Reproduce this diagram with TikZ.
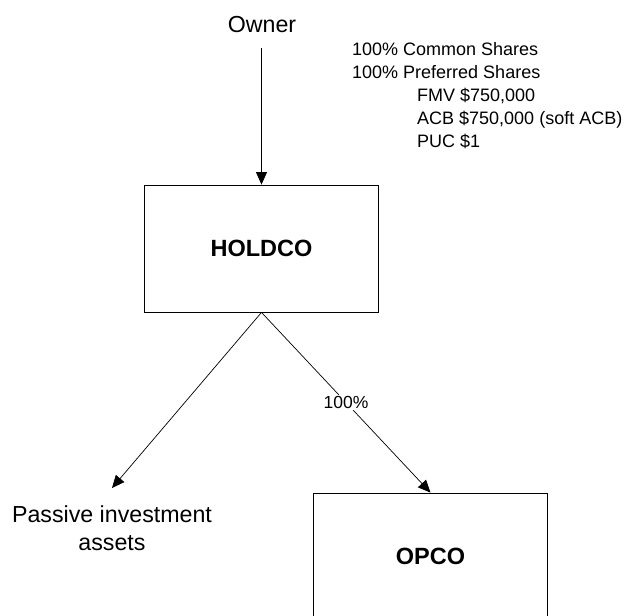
\documentclass[tikz,border=0pt]{standalone}
\usepackage{fontspec}
\setmainfont{Liberation Sans}
\usetikzlibrary{arrows.meta}
\begin{document}
\begin{tikzpicture}[x=1pt,y=-1pt,
  box/.style={draw, line width=0.8pt, minimum width=234pt, minimum height=127pt, inner sep=0pt, font=\fontsize{23.5}{28}\selectfont\bfseries},
  conn/.style={line width=0.7pt, -{Triangle[width=11pt,length=12.5pt]}},
  big/.style={font=\fontsize{23.2}{28}\selectfont, inner sep=0pt},
  small/.style={font=\fontsize{18}{23}\selectfont, inner sep=0pt, anchor=base west}]
\useasboundingbox (0,0) rectangle (633,616);
\clip (0,0) rectangle (633,616);
\fill[white] (0,0) rectangle (633,616);

\node[big, anchor=base] (owner) at (262,32) {Owner};
\coordinate (ostart) at (261.5,48);

\node[small] (t1) at (352,55) {100\% Common Shares};
\node[small] (t2) at (352,78) {100\% Preferred Shares};
\node[small] (t3) at (417,101) {FMV \$750,000};
\node[small] (t4) at (417,124) {ACB \$750,000 (soft ACB)};
\node[small] (t5) at (417,147) {PUC \$1};

\node[box] (holdco) at (261.5,248.5) {HOLDCO};
\node[box] (opco) at (430.5,556.5) {OPCO};

\node[big, align=center, anchor=north] (passive) at (112,505) {Passive investment\\assets};
\coordinate (ptip) at (112,488);

\draw[conn] (ostart) -- (holdco.north);
\draw[conn] (holdco.south) -- (ptip);
\draw[conn] (holdco.south) -- node[fill=white, inner sep=1pt, font=\fontsize{17.5}{21}\selectfont] {100\%} (opco.north);
\end{tikzpicture}
\end{document}
